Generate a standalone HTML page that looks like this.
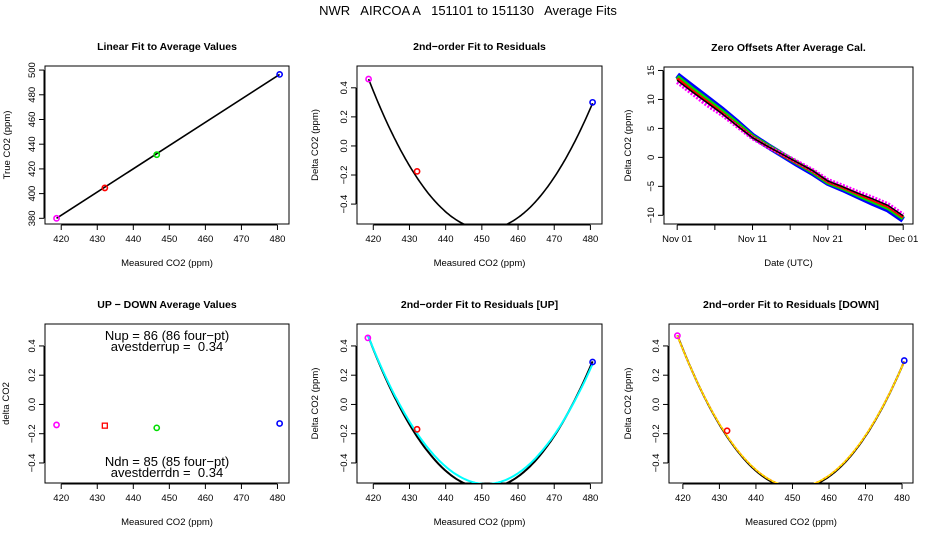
<!DOCTYPE html>
<html><head><meta charset="utf-8"><style>
body{margin:0;background:#fff;}
svg{display:block;font-family:"Liberation Sans",Arial,sans-serif;}
text{white-space:pre;}
</style></head><body>
<svg id="s" width="936" height="540" viewBox="0 0 936 540" xmlns="http://www.w3.org/2000/svg">
<text x="468" y="15" font-size="13" text-anchor="middle" xml:space="preserve">NWR   AIRCOA A   151101 to 151130   Average Fits</text>
</svg>
<script>
// ---- data ----
const co2Ticks = [420, 430, 440, 450, 460, 470, 480];
const trueTicks = [380, 400, 420, 440, 460, 480, 500];
const resTicks = [-0.4, -0.2, 0.0, 0.2, 0.4];
const resTickLabels = ["\u22120.4", "\u22120.2", "0.0", "0.2", "0.4"];
const zeroTicks = [-10, -5, 0, 5, 10, 15];
const zeroTickLabels = ["\u221210", "\u22125", "0", "5", "10", "15"];
const dateTicks = [0, 5, 10, 15, 20, 25, 30];
const dateTickLabels = ["Nov 01", "", "Nov 11", "", "Nov 21", "", "Dec 01"];
const stdColors = ["magenta", "red", "#00dd00", "blue"];
const measured = [418.7, 432.1, 446.5, 480.6];
const trueVals = [380.0, 404.6, 431.5, 496.5];
const linFit = [-408.0, 1.882];
const residuals = [0.46, -0.175, -0.6, 0.30];
const residFit = [0.00099, 451.0, -0.573];
const resUpMeasured = [418.5, 432.1, 446.5, 480.6];
const resUp = [0.455, -0.17, -0.6, 0.29];
const upFit = [0.00095, 451.2, -0.544];
const resDn = [0.47, -0.18, -0.6, 0.30];
const dnFitA = [0.00099, 451.0, -0.573];
const dnFitB = [0.00098, 451.0, -0.565];
const upDown = [-0.14, -0.145, -0.16, -0.13];
const days = [0, 2, 4, 6, 8, 10, 12, 14, 16, 18, 20, 22, 24, 26, 28, 30];
const zeroBlue = [14.2, 12.2, 10.2, 8.2, 6.0, 3.7, 2.0, 0.4, -1.2, -2.7, -4.4, -5.5, -6.7, -7.9, -9.0, -10.8];
const zeroGreen = [13.9, 11.8, 9.9, 7.9, 5.8, 3.6, 2.0, 0.5, -1.0, -2.5, -4.3, -5.3, -6.5, -7.6, -8.7, -10.5];
const zeroRed = [13.6, 11.5, 9.6, 7.6, 5.5, 3.5, 1.9, 0.4, -1.0, -2.4, -4.2, -5.2, -6.3, -7.4, -8.5, -10.3];
const zeroMagenta = [13.0, 11.0, 9.0, 7.3, 5.3, 3.3, 1.8, 0.6, -0.8, -2.2, -3.9, -4.9, -6.0, -7.0, -8.1, -9.9];
const zeroBlack = [13.3, 11.3, 9.4, 7.5, 5.4, 3.4, 1.9, 0.5, -0.9, -2.3, -4.1, -5.1, -6.2, -7.2, -8.3, -10.1];

// ---- helpers ----
const NS = "http://www.w3.org/2000/svg";
const svg = document.getElementById("s");
function mk(tag, attrs, parent) {
  const e = document.createElementNS(NS, tag);
  for (const k in attrs) e.setAttribute(k, attrs[k]);
  (parent || svg).appendChild(e);
  return e;
}
function panel(name, box, xd, yd) {
  const g = mk("g", {});
  
  
  const p = {g, box,
    x: v => box[0] + (v - xd[0]) / (xd[1] - xd[0]) * (box[2] - box[0]),
    y: v => box[3] - (v - yd[0]) / (yd[1] - yd[0]) * (box[3] - box[1])};
  const id = "clip-" + name;
  const cp = mk("clipPath", {id}, g);
  mk("rect", {x: box[0], y: box[1], width: box[2] - box[0], height: box[3] - box[1]}, cp);
  p.clip = "url(#" + id + ")";
  return p;
}
function frame(p, title, xlab, ylab, ylabX) {
  const b = p.box, cx = (b[0] + b[2]) / 2, cy = (b[1] + b[3]) / 2;
  const r = mk("rect", {x: b[0], y: b[1], width: b[2] - b[0], height: b[3] - b[1], fill: "none", stroke: "#000", "stroke-width": 1}, p.g);
  
  
  const t = mk("text", {x: cx, y: b[1] - 16, "font-size": 10.5, "font-weight": "bold", "text-anchor": "middle"}, p.g);
  t.textContent = title;
  
  
  const xl = mk("text", {x: cx, y: b[3] + 42, "font-size": 9.5, "text-anchor": "middle"}, p.g);
  xl.textContent = xlab;
  
  
  const yl = mk("text", {x: ylabX, y: cy, "font-size": 9.5, "text-anchor": "middle", transform: "rotate(-90 " + ylabX + " " + cy + ")"}, p.g);
  yl.textContent = ylab;
  
  
}
function xaxis(p, ticks, labels) {
  const b = p.box, y0 = b[3] + 1;
  const ax = mk("g", {}, p.g);
  
  
  mk("line", {x1: p.x(ticks[0]), x2: p.x(ticks[ticks.length - 1]), y1: y0, y2: y0, stroke: "#000"}, ax);
  ticks.forEach((t, i) => {
    mk("line", {x1: p.x(t), x2: p.x(t), y1: y0, y2: y0 + 5, stroke: "#000"}, ax);
    const tx = mk("text", {x: p.x(t), y: y0 + 17, "font-size": 9.5, "text-anchor": "middle"}, ax);
    tx.textContent = labels[i];
    
    
  });
}
function yaxis(p, ticks, labels) {
  const b = p.box, x0 = b[0] - 1;
  const ax = mk("g", {}, p.g);
  
  
  mk("line", {x1: x0, x2: x0, y1: p.y(ticks[0]), y2: p.y(ticks[ticks.length - 1]), stroke: "#000"}, ax);
  ticks.forEach((t, i) => {
    mk("line", {x1: x0, x2: x0 - 5, y1: p.y(t), y2: p.y(t), stroke: "#000"}, ax);
    const lx = x0 - 9, ly = p.y(t);
    const tx = mk("text", {x: lx, y: ly, "font-size": 9.5, "text-anchor": "middle", transform: "rotate(-90 " + lx + " " + ly + ")"}, ax);
    tx.textContent = labels[i];
    
    
  });
}
function pts(p, xs, ys, colors) {
  xs.forEach((xv, i) => {
    const c = mk("circle", {cx: p.x(xv), cy: p.y(ys[i]), r: 2.6, fill: "none", stroke: colors[i], "stroke-width": 1.6, "clip-path": p.clip}, p.g);
    
    
  });
}
function quad(p, coef, xmin, xmax, color, width, dash) {
  let d = "";
  const n = 140;
  for (let i = 0; i <= n; i++) {
    const v = xmin + (xmax - xmin) * i / n;
    const yv = coef[0] * (v - coef[1]) * (v - coef[1]) + coef[2];
    d += (d ? "L" : "M") + p.x(v).toFixed(1) + " " + p.y(yv).toFixed(1);
  }
  const a = {d, fill: "none", stroke: color, "stroke-width": width, "clip-path": p.clip};
  if (dash) a["stroke-dasharray"] = dash;
  const e = mk("path", a, p.g);
  
  
}
const xdom = [415.5, 483.2];
const ydom = [-0.537, 0.55];

// ---- panel 1 ----
const p1 = panel("linear-fit-panel", [45, 66, 289, 224], xdom, [375.4, 503.3]);
frame(p1, "Linear Fit to Average Values", "Measured CO2 (ppm)", "True CO2 (ppm)", 10);
xaxis(p1, co2Ticks, co2Ticks.map(String));
yaxis(p1, trueTicks, trueTicks.map(String));
{
  const x0 = measured[0], x1 = measured[measured.length - 1];
  const ln = mk("line", {x1: p1.x(x0), y1: p1.y(linFit[0] + linFit[1] * x0), x2: p1.x(x1), y2: p1.y(linFit[0] + linFit[1] * x1), stroke: "#000", "stroke-width": 1.6, "clip-path": p1.clip}, p1.g);
  
  
}
pts(p1, measured, trueVals, stdColors);

// ---- panel 2 ----
const p2 = panel("residual-fit-panel", [357, 66, 602, 224], xdom, ydom);
frame(p2, "2nd\u2212order Fit to Residuals", "Measured CO2 (ppm)", "Delta CO2 (ppm)", 318);
xaxis(p2, co2Ticks, co2Ticks.map(String));
yaxis(p2, resTicks, resTickLabels);
quad(p2, residFit, measured[0], measured[3], "#000", 1.6);
pts(p2, measured, residuals, stdColors);

// ---- panel 3 ----
const p3 = panel("zero-offsets-panel", [664, 67, 913, 224], [-1.75, 31.3], [-11.5, 15.6]);
frame(p3, "Zero Offsets After Average Cal.", "Date (UTC)", "Delta CO2 (ppm)", 631);
xaxis(p3, dateTicks, dateTickLabels);
yaxis(p3, zeroTicks, zeroTickLabels);
[[zeroBlue, "blue", 6, null], [zeroGreen, "#00dd00", 4.5, null], [zeroRed, "red", 3, null], [zeroMagenta, "magenta", 4, "2 1.5"], [zeroBlack, "#000", 1.5, null]].forEach(s => {
  const d = days.map((dv, i) => (i ? "L" : "M") + p3.x(dv).toFixed(1) + " " + p3.y(s[0][i]).toFixed(1)).join("");
  const a = {d, fill: "none", stroke: s[1], "stroke-width": s[2], "stroke-linejoin": "round", "clip-path": p3.clip};
  if (s[3]) a["stroke-dasharray"] = s[3];
  const e = mk("path", a, p3.g);
  
  
});

// ---- panel 4 ----
const p4 = panel("up-down-panel", [45, 324, 289, 483], xdom, ydom);
frame(p4, "UP \u2212 DOWN Average Values", "Measured CO2 (ppm)", "delta CO2", 9);
xaxis(p4, co2Ticks, co2Ticks.map(String));
yaxis(p4, resTicks, resTickLabels);
upDown.forEach((v, i) => {
  let e;
  if (i === 1) {
    e = mk("rect", {x: p4.x(measured[i]) - 2.5, y: p4.y(v) - 2.5, width: 5, height: 5, fill: "none", stroke: "red", "stroke-width": 1.3}, p4.g);
  } else {
    e = mk("circle", {cx: p4.x(measured[i]), cy: p4.y(v), r: 2.6, fill: "none", stroke: stdColors[i], "stroke-width": 1.6}, p4.g);
  }
  
  
});
[["Nup = 86 (86 four\u2212pt)", 340], ["avestderrup =  0.34", 351], ["Ndn = 85 (85 four\u2212pt)", 466], ["avestderrdn =  0.34", 477]].forEach(t => {
  const e = mk("text", {x: 167, y: t[1], "font-size": 13, "text-anchor": "middle"}, p4.g);
  e.textContent = t[0];
  
  
});

// ---- panel 5 ----
const p5 = panel("up-residual-panel", [357, 324, 602, 483], xdom, ydom);
frame(p5, "2nd\u2212order Fit to Residuals [UP]", "Measured CO2 (ppm)", "Delta CO2 (ppm)", 318);
xaxis(p5, co2Ticks, co2Ticks.map(String));
yaxis(p5, resTicks, resTickLabels);
quad(p5, residFit, resUpMeasured[0], resUpMeasured[3], "#000", 2);
quad(p5, upFit, resUpMeasured[0], resUpMeasured[3], "cyan", 2);
pts(p5, resUpMeasured, resUp, stdColors);

// ---- panel 6 ----
const p6 = panel("down-residual-panel", [669, 324, 913, 483], [416.2, 483.0], ydom);
frame(p6, "2nd\u2212order Fit to Residuals [DOWN]", "Measured CO2 (ppm)", "Delta CO2 (ppm)", 631);
xaxis(p6, co2Ticks, co2Ticks.map(String));
yaxis(p6, resTicks, resTickLabels);
quad(p6, dnFitA, resUpMeasured[0], resUpMeasured[3], "#000", 2);
quad(p6, dnFitB, resUpMeasured[0], resUpMeasured[3], "orange", 1.8);
quad(p6, dnFitB, resUpMeasured[0], resUpMeasured[3], "yellow", 1.3, "2 2");
pts(p6, resUpMeasured, resDn, stdColors);
</script>
</body></html>
